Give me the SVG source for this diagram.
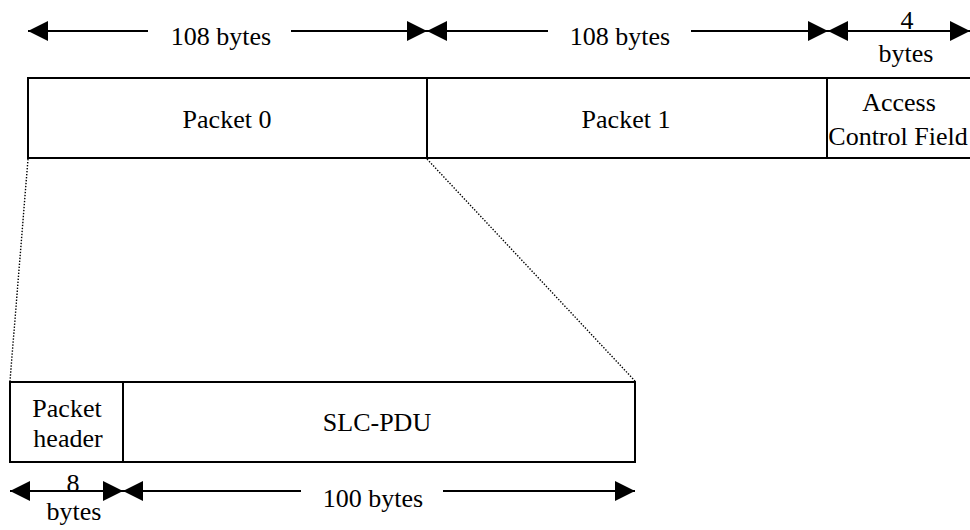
<svg xmlns="http://www.w3.org/2000/svg" width="970" height="530" viewBox="0 0 970 530">
  <style>
    .box { fill: #fff; stroke: #000; stroke-width: 2; }
    text { font-family: 'Liberation Serif', 'Times New Roman', Times, 'DejaVu Serif', serif; font-size: 26px; fill: #000; text-anchor: middle; }
    .dim { stroke: #000; stroke-width: 2; fill: none; }
    .dot { stroke: #000; stroke-width: 1.4; stroke-dasharray: 1.4 1.6; fill: none; }
  </style>
  <defs>
    <marker id="ah" viewBox="0 0 20 20" refX="20" refY="10" markerWidth="20" markerHeight="20" markerUnits="userSpaceOnUse" orient="auto-start-reverse">
      <path d="M0,0 L20,10 L0,20 z" fill="#000"/>
    </marker>
  </defs>
  <rect width="970" height="530" fill="#fff"/>

  <g id="packet0">
    <rect class="box" x="28" y="78" width="399" height="80"/>
    <text font-family="Liberation Serif, serif" x="227" y="128">Packet 0</text>
  </g>
  <g id="packet1">
    <rect class="box" x="427" y="78" width="400" height="80"/>
    <text font-family="Liberation Serif, serif" x="626" y="128">Packet 1</text>
  </g>
  <g id="access-control-field">
    <rect class="box" x="827" y="78" width="180" height="80"/>
    <text font-family="Liberation Serif, serif" x="899" y="111">Access</text>
    <text font-family="Liberation Serif, serif" x="898" y="145">Control Field</text>
  </g>

  <g id="packet-header">
    <rect class="box" x="10" y="382" width="113" height="80"/>
    <text font-family="Liberation Serif, serif" x="67" y="417">Packet</text>
    <text font-family="Liberation Serif, serif" x="68" y="447">header</text>
  </g>
  <g id="slc-pdu">
    <rect class="box" x="123" y="382" width="512" height="80"/>
    <text font-family="Liberation Serif, serif" x="377" y="431">SLC-PDU</text>
  </g>

  <g id="connectors">
    <line class="dot" x1="28" y1="159" x2="10" y2="381"/>
    <line class="dot" x1="427" y1="159" x2="635" y2="381"/>

    <line class="dim" x1="148" y1="31" x2="28" y2="31" marker-end="url(#ah)"/>
    <line class="dim" x1="291" y1="31" x2="427" y2="31" marker-end="url(#ah)"/>
    <line class="dim" x1="548" y1="31" x2="427" y2="31" marker-end="url(#ah)"/>
    <line class="dim" x1="691" y1="31" x2="828" y2="31" marker-end="url(#ah)"/>
    <line class="dim" x1="828" y1="31" x2="970" y2="31" marker-start="url(#ah)" marker-end="url(#ah)"/>

    <line class="dim" x1="10" y1="491" x2="123" y2="491" marker-start="url(#ah)" marker-end="url(#ah)"/>
    <line class="dim" x1="301" y1="491" x2="123" y2="491" marker-end="url(#ah)"/>
    <line class="dim" x1="443" y1="491" x2="635" y2="491" marker-end="url(#ah)"/>
  </g>

  <g id="dimension-labels" font-family="Liberation Serif, serif">
    <text font-family="Liberation Serif, serif" x="221" y="45">108 bytes</text>
    <text font-family="Liberation Serif, serif" x="620" y="45">108 bytes</text>
    <text font-family="Liberation Serif, serif" x="907" y="29">4</text>
    <text font-family="Liberation Serif, serif" x="906" y="62">bytes</text>
    <text font-family="Liberation Serif, serif" x="73" y="492">8</text>
    <text font-family="Liberation Serif, serif" x="74" y="520">bytes</text>
    <text font-family="Liberation Serif, serif" x="373" y="507">100 bytes</text>
  </g>
</svg>
